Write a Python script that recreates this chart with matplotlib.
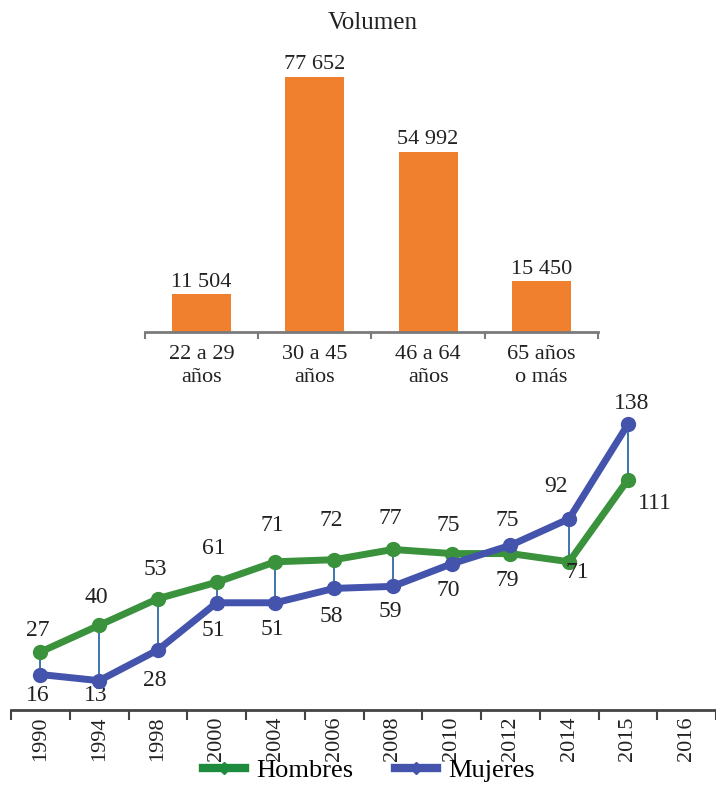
import matplotlib.pyplot as plt
from matplotlib.lines import Line2D

plt.rcParams['font.family'] = ['Liberation Serif', 'DejaVu Serif']

# volumen por grupo de edad
grupos = ["22 a 29\naños", "30 a 45\naños", "46 a 64\naños", "65 años\no más"]
volumen = [11504, 77652, 54992, 15450]

# evolución por sexo
anios = ["1990", "1994", "1998", "2000", "2004", "2006", "2008", "2010",
         "2012", "2014", "2015", "2016"]
hombres = [27, 40, 53, 61, 71, 72, 77, 75, 75, 71, 111]
mujeres = [16, 13, 28, 51, 51, 58, 59, 70, 79, 92, 138]

naranja = "#F07F2E"
verde = "#3A923C"
azul = "#4453AC"
gris = "#7A7A7A"

fig = plt.figure(figsize=(7.16, 8.08), dpi=100)


def miles(v):
    return f"{v:,}".replace(",", " ")


# --- barras ---
ax1 = fig.add_axes([0.2025, 0.589, 0.6327, 0.3366])
xb = range(len(grupos))
ax1.bar(xb, volumen, width=0.52, color=naranja, zorder=2)
for i, v in enumerate(volumen):
    ax1.annotate(miles(v), (i, v), xytext=(0, 2), textcoords="offset points",
                 ha="center", va="bottom", fontsize=16, color="#222222")
ax1.set_xlim(-0.5, len(grupos) - 0.5)
ax1.set_ylim(0, 82830)
ax1.set_xticks([i - 0.5 for i in range(len(grupos) + 1)], minor=False)
ax1.set_xticklabels([])
ax1.set_xticks(list(xb), minor=True)
ax1.set_xticklabels(grupos, minor=True, fontsize=16, color="#222222",
                    linespacing=1.35)
ax1.tick_params(axis="x", which="major", length=5, width=1.5, color=gris,
                direction="out")
ax1.tick_params(axis="x", which="minor", length=0, pad=9)
ax1.set_yticks([])
for s in ["top", "right", "left"]:
    ax1.spines[s].set_visible(False)
ax1.spines["bottom"].set_color(gris)
ax1.spines["bottom"].set_linewidth(2)
fig.text(0.52, 0.971, "Volumen", ha="center", va="center", fontsize=18,
         color="#222222")

# --- líneas ---
ax2 = fig.add_axes([0.0154, 0.1213, 0.9846, 0.3849])
xs = list(range(len(hombres)))
ax2.vlines(xs, hombres, mujeres, color="#2E6BA6", linewidth=1.3, zorder=1)
ax2.plot(xs, hombres, color=verde, linewidth=5, marker="o", markersize=10,
         zorder=3)
ax2.plot(xs, mujeres, color=azul, linewidth=5, marker="o", markersize=10,
         zorder=4)

# desplazamientos de las etiquetas, en píxeles
dy_h = [21, 28, 29, 34, 36, 39, 31, 28, 33]
dy_m = [-21, -15, -31, -28, -27, -28, -25, -27, -35]
esp_h = {9: (8, -11), 10: (27, -24)}
esp_m = {9: (-13, 32), 10: (4, 21)}
for i, v in enumerate(hombres):
    dx, dy = esp_h.get(i, (-3, dy_h[i] if i < len(dy_h) else 28))
    ax2.annotate(str(v), (i, v), xytext=(dx, dy), textcoords="offset pixels",
                 ha="center", va="center", fontsize=17, color="#222222")
for i, v in enumerate(mujeres):
    dx, dy = esp_m.get(i, (-3, dy_m[i] if i < len(dy_m) else -28))
    ax2.annotate(str(v), (i, v), xytext=(dx, dy), textcoords="offset pixels",
                 ha="center", va="center", fontsize=17, color="#222222")

ax2.set_xlim(-0.5, len(anios) - 0.5)
ax2.set_ylim(-1.3, 150.4)
ax2.set_xticks([i - 0.5 for i in range(len(anios) + 1)])
ax2.set_xticklabels([])
ax2.set_xticks(range(len(anios)), minor=True)
ax2.set_xticklabels(anios, minor=True, rotation=90, fontsize=16,
                    color="#222222")
ax2.tick_params(axis="x", which="major", length=7, width=1.5, color="#444444",
                direction="out")
ax2.tick_params(axis="x", which="minor", length=0, pad=5)
ax2.set_yticks([])
for s in ["top", "right", "left"]:
    ax2.spines[s].set_visible(False)
ax2.spines["bottom"].set_color("#444444")
ax2.spines["bottom"].set_linewidth(2)

handles = [
    Line2D([], [], color="#1E8A3E", linewidth=6, marker="D", markersize=6),
    Line2D([], [], color=azul, linewidth=6, marker="D", markersize=6),
]
fig.legend(handles, ["Hombres", "Mujeres"], loc="center",
           bbox_to_anchor=(0.515, 0.047), ncol=2, frameon=False, fontsize=19,
           handlelength=1.6, handletextpad=0.4, columnspacing=1.6)

fig.savefig("out.png", dpi=100)
